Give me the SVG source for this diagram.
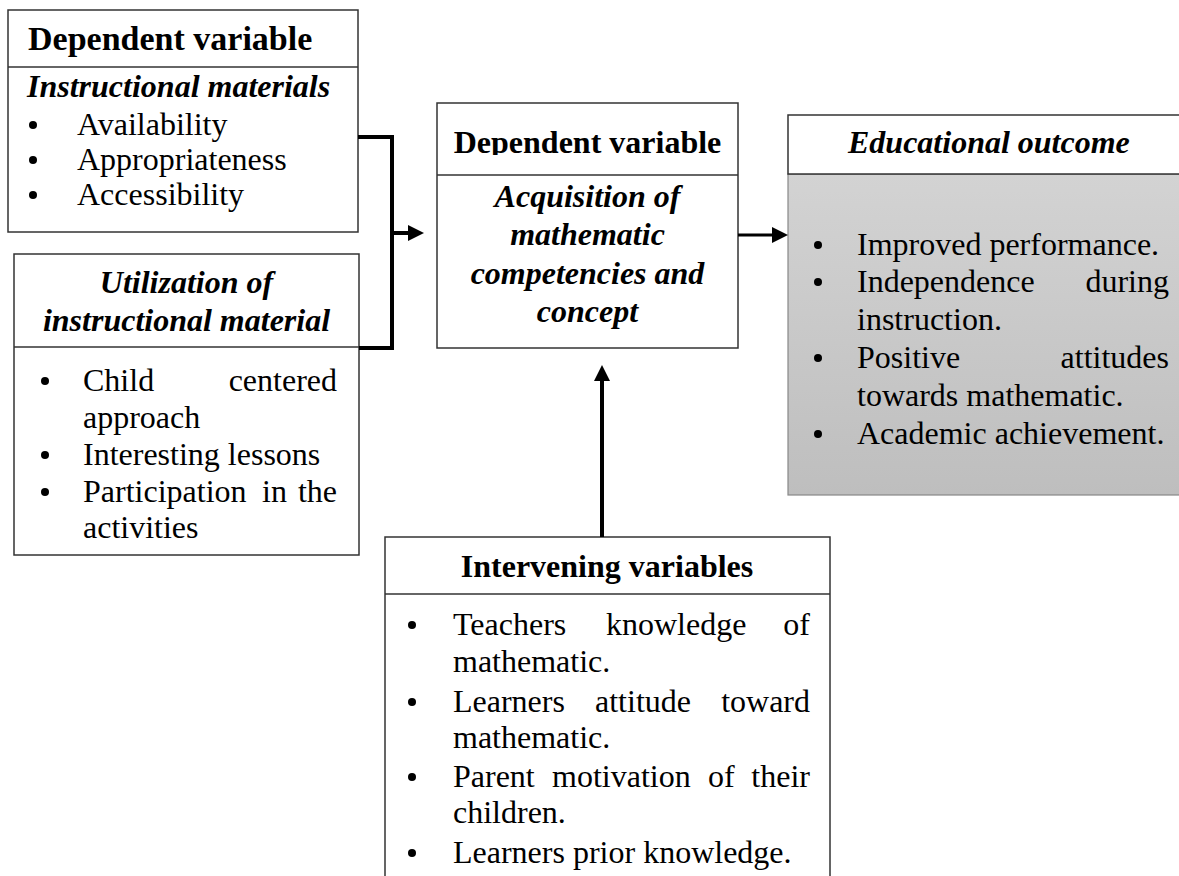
<svg xmlns="http://www.w3.org/2000/svg" width="1179" height="876" viewBox="0 0 1179 876">
<style>
.box{fill:#fff;stroke:#333;stroke-width:1.5}
.div{stroke:#333;stroke-width:1.5}
.t{font-family:"Liberation Serif","Times New Roman",serif;font-size:32px;fill:#000}
.b{font-weight:bold}
.bi{font-weight:bold;font-style:italic}
.c{text-anchor:middle}
.e{text-anchor:end}
.dot{fill:#000}
.conn{fill:none;stroke:#000;stroke-width:4}
</style>
<defs>
<marker id="ah" markerUnits="userSpaceOnUse" viewBox="0 0 16 16" markerWidth="16" markerHeight="16" refX="10" refY="8" orient="auto">
<path d="M0,0 L16,8 L0,16 z" fill="#000"/>
</marker>
<linearGradient id="gray" x1="0" y1="0" x2="0" y2="1">
<stop offset="0" stop-color="#d3d3d3"/>
<stop offset="1" stop-color="#bebebe"/>
</linearGradient>
<clipPath id="clip3"><rect x="437" y="103" width="301" height="52"/></clipPath>
</defs>

<g id="instructional-materials">
<rect class="box" x="8" y="10" width="350" height="222"/>
<line class="div" x1="8" y1="67" x2="358" y2="67"/>
<text class="t b" x="28" y="50" style="font-size:34px">Dependent variable</text>
<text class="t bi" x="27" y="97">Instructional materials</text>
<circle class="dot" cx="33" cy="125" r="4"/>
<text class="t" x="77" y="135">Availability</text>
<circle class="dot" cx="33" cy="160" r="4"/>
<text class="t" x="77" y="170">Appropriateness</text>
<circle class="dot" cx="33" cy="195" r="4"/>
<text class="t" x="77" y="205">Accessibility</text>
</g>

<g id="utilization">
<rect class="box" x="14" y="254" width="345" height="301"/>
<line class="div" x1="14" y1="347" x2="359" y2="347"/>
<text class="t bi c" x="186.5" y="293">Utilization of</text>
<text class="t bi c" x="186.5" y="331">instructional material</text>
<circle class="dot" cx="45" cy="381" r="4"/>
<text class="t" x="83" y="391">Child</text>
<text class="t e" x="337" y="391">centered</text>
<text class="t" x="83" y="428">approach</text>
<circle class="dot" cx="45" cy="455" r="4"/>
<text class="t" x="83" y="465">Interesting lessons</text>
<circle class="dot" cx="45" cy="492" r="4"/>
<text class="t" x="83" y="502">Participation</text>
<text class="t" x="262" y="502">in</text>
<text class="t e" x="337" y="502">the</text>
<text class="t" x="83" y="538">activities</text>
</g>

<g id="acquisition">
<rect class="box" x="437" y="103" width="301" height="245"/>
<line class="div" x1="437" y1="175" x2="738" y2="175"/>
<text class="t b c" x="587.5" y="153" clip-path="url(#clip3)">Dependent variable</text>
<text class="t bi c" x="587.5" y="207">Acquisition of</text>
<text class="t bi c" x="587.5" y="245">mathematic</text>
<text class="t bi c" x="587.5" y="284">competencies and</text>
<text class="t bi c" x="587.5" y="322">concept</text>
</g>

<g id="educational-outcome">
<rect x="788" y="174" width="420" height="321" fill="url(#gray)" stroke="#888" stroke-width="1.2"/>
<rect class="box" x="788" y="115" width="420" height="59"/>
<text class="t bi" x="848" y="153">Educational outcome</text>
<circle class="dot" cx="818" cy="245" r="4"/>
<text class="t" x="857" y="255">Improved performance.</text>
<circle class="dot" cx="818" cy="282" r="4"/>
<text class="t" x="857" y="292">Independence</text>
<text class="t e" x="1169" y="292">during</text>
<text class="t" x="857" y="330">instruction.</text>
<circle class="dot" cx="818" cy="358" r="4"/>
<text class="t" x="857" y="368">Positive</text>
<text class="t e" x="1169" y="368">attitudes</text>
<text class="t" x="857" y="406">towards mathematic.</text>
<circle class="dot" cx="818" cy="434" r="4"/>
<text class="t" x="857" y="444">Academic achievement.</text>
</g>

<g id="intervening-variables">
<rect class="box" x="385" y="537" width="445" height="400"/>
<line class="div" x1="385" y1="594" x2="830" y2="594"/>
<text class="t b c" x="607" y="577">Intervening variables</text>
<circle class="dot" cx="412" cy="625" r="4"/>
<text class="t" x="453" y="635">Teachers</text>
<text class="t" x="606" y="635">knowledge</text>
<text class="t e" x="810" y="635">of</text>
<text class="t" x="453" y="672">mathematic.</text>
<circle class="dot" cx="412" cy="702" r="4"/>
<text class="t" x="453" y="712">Learners</text>
<text class="t" x="595" y="712">attitude</text>
<text class="t e" x="810" y="712">toward</text>
<text class="t" x="453" y="748">mathematic.</text>
<circle class="dot" cx="412" cy="777" r="4"/>
<text class="t" x="453" y="787">Parent</text>
<text class="t" x="552" y="787">motivation</text>
<text class="t" x="708" y="787">of</text>
<text class="t e" x="810" y="787">their</text>
<text class="t" x="453" y="823">children.</text>
<circle class="dot" cx="412" cy="853" r="4"/>
<text class="t" x="453" y="863">Learners prior knowledge.</text>
</g>

<g id="connectors">
<path class="conn" d="M358,137 H392 V348 H359"/>
<path class="conn" d="M392,233 H418" marker-end="url(#ah)"/>
<path class="conn" d="M738,235 H782" style="stroke-width:3" marker-end="url(#ah)"/>
<path class="conn" d="M602,537 V371" marker-end="url(#ah)"/>
</g>
</svg>
